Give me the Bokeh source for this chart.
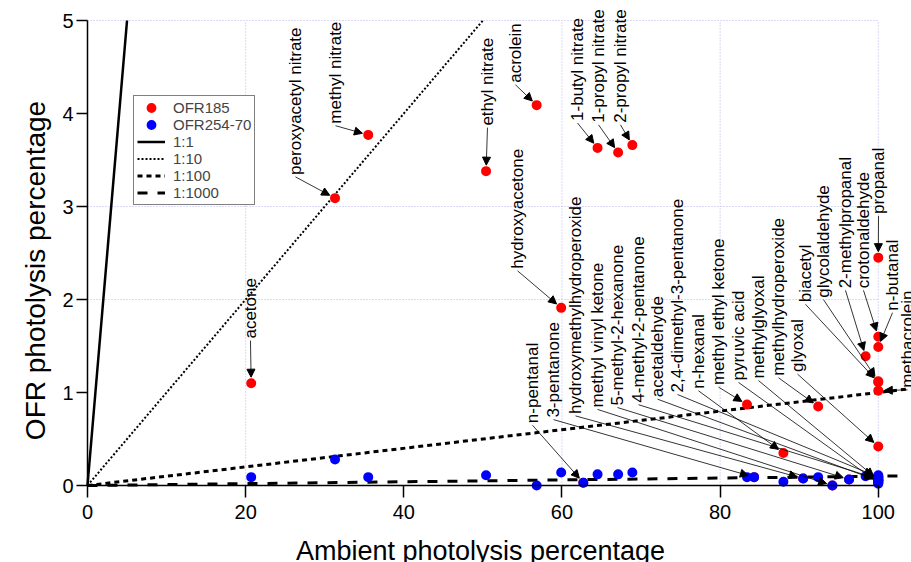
import math
from bokeh.plotting import figure
from bokeh.models import Range1d, FixedTicker, ColumnDataSource, Arrow, NormalHead, Label
from bokeh.core.properties import value
from bokeh.embed import file_html
from bokeh.resources import INLINE

# ---------------- data ----------------
compounds = [
    "acetone", "peroxyacetyl nitrate", "methyl nitrate", "ethyl nitrate", "acrolein",
    "hydroxyacetone", "n-pentanal", "1-butyl nitrate", "1-propyl nitrate", "2-propyl nitrate",
    "3-pentanone", "methyl ethyl ketone", "hydroxymethylhydroperoxide", "methyl vinyl ketone",
    "5-methyl-2-hexanone", "4-methyl-2-pentanone", "acetaldehyde", "2,4-dimethyl-3-pentanone",
    "n-hexanal", "pyruvic acid", "methylglyoxal", "methylhydroperoxide", "glyoxal", "biacetyl",
    "glycolaldehyde", "2-methylpropanal", "crotonaldehyde", "propanal", "n-butanal", "methacrolein",
]
ambient = [20.7, 31.3, 35.5, 50.4, 56.8, 59.9, 62.7, 64.5, 67.1, 68.9,
           84.3, 83.4, 90.5, 94.2, 96.3, 100, 100, 100, 88.0, 100,
           100, 92.4, 100, 100, 100, 98.4, 100, 100, 100, 100]
ofr185 = [1.10, 3.09, 3.77, 3.38, 4.09, 1.91, 0.03, 3.63, 3.58, 3.66,
          0.09, 0.87, 0.075, 0.0, 0.065, 0.07, 0.05, 0.09, 0.35, 0.03,
          0.06, 0.85, 0.42, 1.11, 1.12, 1.39, 1.60, 2.45, 1.49, 1.02]
ofr254 = [0.09, 0.28, 0.09, 0.11, 0.00, 0.14, 0.03, 0.12, 0.12, 0.14,
          0.09, 0.09, 0.075, 0.0, 0.065, 0.07, 0.05, 0.09, 0.04, 0.03,
          0.06, 0.09, 0.02, 0.05, 0.04, 0.10, 0.08, 0.10, 0.11, 0.06]

x_ticks = [0, 20, 40, 60, 80, 100]
y_ticks = [0, 1, 2, 3, 4, 5]
x_grid = [20, 60, 80, 100]
y_grid = [2, 3, 5]
ratios = [1, 0.1, 0.01, 0.001]
ratio_labels = ["1:1", "1:10", "1:100", "1:1000"]
x_title = "Ambient photolysis percentage"
y_title = "OFR photolysis percentage"

# label layout: data position of the start (bottom end) of each rotated label
label_x = [20.61, 26.30, 31.36, 50.58, 54.12, 54.38, 56.27, 61.96, 64.62, 67.40,
           58.93, 79.79, 61.71, 64.49, 67.02, 69.68, 72.08, 74.61, 77.26, 82.32,
           84.85, 87.38, 89.78, 90.79, 93.07, 95.85, 98.13, 100.03, 101.80, 103.7]
label_y = [1.58, 3.34, 3.89, 3.87, 4.33, 2.33, 0.67, 3.92, 3.90, 3.90,
           0.73, 1.08, 0.77, 0.84, 0.86, 0.89, 0.95, 1.00, 1.04, 1.13,
           1.15, 1.18, 1.22, 1.97, 2.02, 2.12, 2.12, 2.92, 1.88, 1.05]

FONT = "Liberation Sans"
W, H = 911, 562
AX_X, AX_Y = 87.0, 485.0          # pixel position of the data origin
PX_PER_X = (W - AX_X) / 104.2
PX_PER_Y = 93.0
X0, X1 = -AX_X / PX_PER_X, (W - AX_X) / PX_PER_X
Y0, Y1 = -(H - AX_Y) / PX_PER_Y, AX_Y / PX_PER_Y
sx, sy = PX_PER_X, PX_PER_Y


def dx(px):
    return (px - AX_X) / sx


def dy(py):
    return (AX_Y - py) / sy


p = figure(width=W, height=H, x_range=Range1d(X0, X1), y_range=Range1d(Y0, Y1),
           output_backend="svg", toolbar_location=None,
           min_border_left=0, min_border_right=0, min_border_top=0, min_border_bottom=0)
p.outline_line_color = None
p.xgrid.visible = False
p.ygrid.visible = False
p.background_fill_color = "white"
p.border_fill_color = "white"

# grid
gcol = "#b4b4ee"
p.multi_line(xs=[[g, g] for g in x_grid], ys=[[0, 5] for _ in x_grid],
             line_color=gcol, line_width=1, line_dash="1 2")
p.multi_line(xs=[[0, 100] for _ in y_grid], ys=[[g, g] for g in y_grid],
             line_color=gcol, line_width=1, line_dash="1 2")

# ratio lines
styles = [("solid", 2.5), ("2 2", 2), ("5 4", 3), ("10 10", 3)]
for r, lab, (dash, lw) in zip(ratios, ratio_labels, styles):
    xe = min(5.0 / r, 103.5)
    p.line([0, xe], [0, xe * r], line_color="black", line_width=lw, line_dash=dash,
           legend_label=lab)

# arrows from label to OFR185 point
xs_, ys_, xe_, ye_ = [], [], [], []
for lx, ly, px, py in zip(label_x, label_y, ambient, ofr185):
    ly0 = ly - 2.0 / sy
    dxp = (px - lx) * sx
    dyp = (py - ly0) * sy
    d = math.hypot(dxp, dyp)
    xs_.append(lx)
    ys_.append(ly0)
    xe_.append(px - dxp / d * 6.0 / sx)
    ye_.append(py - dyp / d * 6.0 / sy)
arrow_src = ColumnDataSource(dict(xs=xs_, ys=ys_, xe=xe_, ye=ye_))
p.add_layout(Arrow(end=NormalHead(size=8, fill_color="black", line_color="black", line_width=1),
                   x_start="xs", y_start="ys", x_end="xe", y_end="ye", source=arrow_src,
                   line_color="black", line_width=0.8))

# points (size + outline width give ~10 px dots)
p.scatter(ambient, ofr185, size=7, fill_color="#ff0000", line_color="#ff0000", line_width=3,
          legend_label="OFR185")
p.scatter(ambient, ofr254, size=7, fill_color="#0000ff", line_color="#0000ff", line_width=3,
          legend_label="OFR254-70")

# labels
lab_src = ColumnDataSource(dict(x=label_x, y=label_y, t=compounds))
p.text(x="x", y="y", text="t", source=lab_src, angle=math.pi / 2, text_align="left",
       text_baseline="middle", text_font=value(FONT), text_font_size="17px", text_color="black")

# axes drawn through the data origin
for ax, ticks, bnd in ((p.xaxis[0], x_ticks, (0, 100)), (p.yaxis[0], y_ticks, (0, 5))):
    ax.ticker = FixedTicker(ticks=ticks)
    ax.bounds = bnd
    ax.fixed_location = 0
    ax.minor_tick_line_color = None
    ax.major_tick_in = 0
    ax.axis_line_width = 1.5
    ax.major_tick_line_width = 1.5
    ax.axis_line_color = "black"
    ax.major_tick_line_color = "black"
    ax.major_label_text_font = FONT
    ax.major_label_text_font_size = "20px"
    ax.major_label_text_color = "black"

p.xaxis.major_tick_out = 12
p.xaxis.major_label_standoff = 7
p.yaxis.major_tick_out = 11
p.yaxis.major_label_standoff = 3

# axis titles
p.add_layout(Label(x=dx(480), y=dy(535), text=x_title, text_align="center",
                   text_baseline="top", text_font=FONT, text_font_size="27px",
                   text_color="black"))
p.add_layout(Label(x=dx(35), y=dy(270), text=y_title, angle=math.pi / 2,
                   text_align="center", text_baseline="middle", text_font=FONT,
                   text_font_size="28px", text_color="black"))

# legend
lg = p.legend[0]
lg.items = [lg.items[4], lg.items[5], lg.items[0], lg.items[1], lg.items[2], lg.items[3]]
lg.location = (133, H - 205)
lg.border_line_color = "black"
lg.border_line_width = 1
lg.background_fill_alpha = 1
lg.padding = 3
lg.spacing = 0
lg.margin = 0
lg.label_height = 17
lg.glyph_height = 17
lg.glyph_width = 28
lg.label_standoff = 8
lg.label_text_font = FONT
lg.label_text_font_size = "15px"

open("out.html", "w").write(file_html(p, INLINE))
